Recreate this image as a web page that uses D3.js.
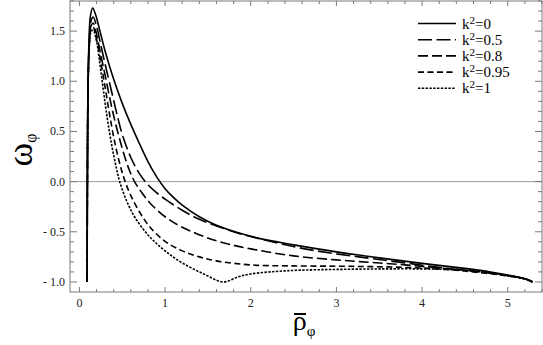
<!DOCTYPE html>
<html lang="en">
<head>
  <meta charset="UTF-8">
  <style>
    body { margin: 0; background: #fff; overflow: hidden; }
    svg { display: block; }
    .frame { fill: none; stroke: #7a7a7a; stroke-width: 1; }
    .tick { stroke: #7a7a7a; stroke-width: 1; }
    .ticklabel { font-family: "Liberation Serif", "Times New Roman", serif; font-size: 12px; fill: #222; }
    .curve { fill: none; stroke: #000; stroke-width: 1.6; }
    .legend text { font-family: "Liberation Serif", "Times New Roman", serif; font-size: 15px; fill: #000; }
    .axislabel { font-family: "Liberation Serif", "Times New Roman", serif; fill: #000; }
  </style>
  <script src="https://d3js.org/d3.v7.min.js"></script>
</head>
<body>
<svg id="chart"></svg>
<script>
  // series values: [rho, omega]
  const curveK0 = [[0.09,-1.0],[0.093,0.0],[0.10,0.9],[0.112,1.4],[0.128,1.65],[0.155,1.73],[0.19,1.66],[0.24,1.50],[0.3,1.30],[0.4,1.02],[0.5,0.78],[0.6,0.57],[0.7,0.38],[0.8,0.20],[0.9,0.05],[1.0,-0.07],[1.1,-0.16],[1.2,-0.235],[1.4,-0.35],[1.6,-0.435],[2.0,-0.545],[2.5,-0.63],[3.0,-0.70],[3.5,-0.76],[4.0,-0.815],[4.5,-0.865],[4.8,-0.90],[5.0,-0.93],[5.15,-0.958],[5.25,-0.98],[5.29,-1.0]];
  const curveK05 = [[0.09,-1.0],[0.093,0.0],[0.10,0.9],[0.115,1.4],[0.135,1.6],[0.16,1.64],[0.2,1.55],[0.25,1.36],[0.3,1.17],[0.35,0.99],[0.45,0.63],[0.5,0.47],[0.6,0.24],[0.7,0.08],[0.8,-0.03],[0.9,-0.11],[1.0,-0.175],[1.2,-0.285],[1.4,-0.375],[1.8,-0.50],[2.2,-0.59],[2.6,-0.665],[3.0,-0.72],[3.4,-0.765],[3.8,-0.81],[4.2,-0.855],[4.6,-0.89],[5.0,-0.935],[5.2,-0.968],[5.29,-1.0]];
  const curveK08 = [[0.09,-1.0],[0.093,0.0],[0.10,0.9],[0.115,1.38],[0.135,1.55],[0.16,1.58],[0.2,1.47],[0.25,1.26],[0.3,1.06],[0.35,0.85],[0.41,0.62],[0.5,0.33],[0.58,0.12],[0.65,-0.01],[0.72,-0.10],[0.82,-0.21],[1.0,-0.35],[1.2,-0.455],[1.6,-0.59],[2.0,-0.67],[2.5,-0.74],[3.0,-0.78],[3.4,-0.805],[3.8,-0.83],[4.2,-0.86],[4.6,-0.89],[5.0,-0.935],[5.2,-0.968],[5.29,-1.0]];
  const curveK095 = [[0.09,-1.0],[0.093,0.0],[0.10,0.9],[0.115,1.36],[0.135,1.52],[0.16,1.54],[0.2,1.42],[0.25,1.19],[0.3,0.94],[0.36,0.63],[0.42,0.36],[0.48,0.15],[0.53,0.01],[0.6,-0.14],[0.7,-0.30],[0.82,-0.45],[1.0,-0.595],[1.2,-0.69],[1.4,-0.75],[1.6,-0.79],[2.0,-0.83],[2.5,-0.84],[3.0,-0.843],[3.4,-0.847],[3.8,-0.855],[4.2,-0.87],[4.6,-0.90],[5.0,-0.94],[5.2,-0.97],[5.29,-1.0]];
  const curveK1 = [[0.09,-1.0],[0.093,0.0],[0.10,0.9],[0.115,1.34],[0.135,1.49],[0.16,1.51],[0.2,1.40],[0.25,1.10],[0.32,0.66],[0.38,0.35],[0.43,0.14],[0.47,0.0],[0.55,-0.19],[0.65,-0.36],[0.82,-0.55],[1.0,-0.69],[1.2,-0.81],[1.45,-0.92],[1.68,-1.0],[1.85,-0.95],[2.0,-0.92],[2.3,-0.895],[2.6,-0.882],[3.0,-0.875],[3.5,-0.87],[4.0,-0.87],[4.4,-0.88],[4.8,-0.91],[5.0,-0.94],[5.2,-0.97],[5.29,-1.0]];

  const legendLabels = ["0", "0.5", "0.8", "0.95", "1"];
  const xTickValues = [0, 1, 2, 3, 4, 5];
  const yTickValues = [-1.0, -0.5, 0.0, 0.5, 1.0, 1.5];

  const series = [curveK0, curveK05, curveK08, curveK095, curveK1];
  const dashes = ["none", "14,4.5", "10,4", "6,3.5", "2.4,1.4"];

  const W = 543, H = 345;
  const pLeft = 70, pRight = 542, pTop = 1, pBottom = 292;

  const svg = d3.select("#chart").attr("width", W).attr("height", H);

  const x = d3.scaleLinear().domain([-0.11, 5.4]).range([pLeft, pRight]);
  const y = d3.scaleLinear().domain([-1.1, 1.8]).range([pBottom, pTop]);

  // zero line
  svg.append("line")
    .attr("x1", pLeft).attr("x2", pRight)
    .attr("y1", y(0)).attr("y2", y(0))
    .attr("stroke", "#9a9a9a").attr("stroke-width", 1);

  // ticks (inward on all four sides, Mathematica-like frame)
  const xMinor = d3.range(0, 5.41, 0.2);
  const yMinor = d3.range(-1.0, 1.81, 0.1);
  const isMajorX = v => Math.abs(v - Math.round(v)) < 1e-6;
  const isMajorY = v => Math.abs(v * 2 - Math.round(v * 2)) < 1e-6;

  const tg = svg.append("g");
  xMinor.forEach(v => {
    const len = isMajorX(v) ? 5 : 3;
    tg.append("line").attr("class", "tick")
      .attr("x1", x(v)).attr("x2", x(v)).attr("y1", pBottom).attr("y2", pBottom - len);
    tg.append("line").attr("class", "tick")
      .attr("x1", x(v)).attr("x2", x(v)).attr("y1", pTop).attr("y2", pTop + len);
  });
  yMinor.forEach(v => {
    const len = isMajorY(v) ? 7 : 4;
    tg.append("line").attr("class", "tick")
      .attr("x1", pLeft).attr("x2", pLeft + len).attr("y1", y(v)).attr("y2", y(v));
    tg.append("line").attr("class", "tick")
      .attr("x1", pRight).attr("x2", pRight - len).attr("y1", y(v)).attr("y2", y(v));
  });

  svg.append("rect").attr("class", "frame")
    .attr("x", pLeft).attr("y", pTop)
    .attr("width", pRight - pLeft).attr("height", pBottom - pTop);

  // tick labels
  svg.selectAll(".xl").data(xTickValues).join("text")
    .attr("class", "ticklabel")
    .attr("x", d => x(d)).attr("y", 307)
    .attr("text-anchor", "middle")
    .text(d => d);

  svg.selectAll(".yl").data(yTickValues).join("text")
    .attr("class", "ticklabel")
    .attr("x", 65).attr("y", d => y(d) + 4)
    .attr("text-anchor", "end")
    .text(d => d < 0 ? "- " + Math.abs(d).toFixed(1) : d.toFixed(1));

  // curves
  const line = d3.line()
    .x(d => x(d[0])).y(d => y(d[1]))
    .curve(d3.curveCatmullRom.alpha(0.5));

  series.forEach((s, i) => {
    svg.append("path").attr("class", "curve")
      .attr("d", line(s))
      .attr("stroke-dasharray", dashes[i]);
  });

  // legend
  const lg = svg.append("g").attr("class", "legend");
  legendLabels.forEach((lab, i) => {
    const ly = 23.5 + i * 16.2;
    lg.append("line")
      .attr("x1", 418).attr("x2", 456).attr("y1", ly).attr("y2", ly)
      .attr("stroke", "#000").attr("stroke-width", 1.6)
      .attr("stroke-dasharray", dashes[i]);
    const t = lg.append("text").attr("x", 462).attr("y", ly + 5);
    t.append("tspan").text("k");
    t.append("tspan").attr("dy", -5).attr("font-size", "11px").text("2");
    t.append("tspan").attr("dy", 5).text("=" + lab);
  });

  // axis labels
  const yl = svg.append("text").attr("class", "axislabel")
    .attr("transform", "translate(32,150) rotate(-90)")
    .attr("text-anchor", "middle");
  yl.append("tspan").attr("font-size", "36px").text("ω");
  yl.append("tspan").attr("font-size", "16px").attr("dy", 4).text("φ");

  const xl = svg.append("text").attr("class", "axislabel")
    .attr("x", 304).attr("y", 330)
    .attr("text-anchor", "middle");
  xl.append("tspan").attr("font-size", "28px").text("ρ");
  xl.append("tspan").attr("font-size", "15px").attr("dy", 6).text("φ");
  svg.append("line")
    .attr("x1", 294).attr("x2", 306).attr("y1", 314).attr("y2", 314)
    .attr("stroke", "#000").attr("stroke-width", 2);
</script>
</body>
</html>
